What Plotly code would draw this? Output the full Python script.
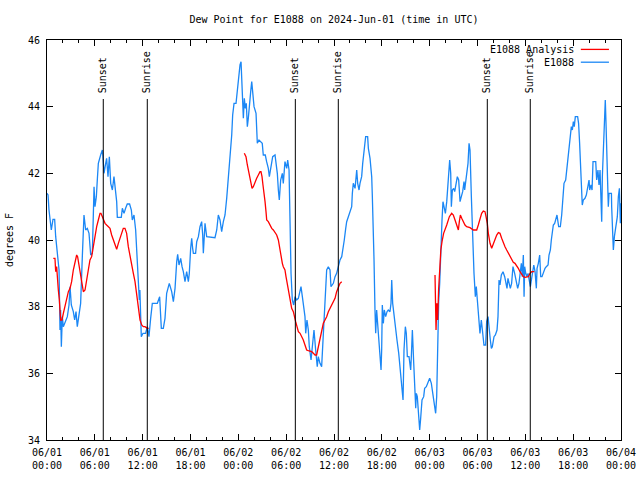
import pandas as pd
import plotly.graph_objects as go

BASE = pd.Timestamp("2024-06-01 00:00")

# E1088 observations (hours since 2024-06-01 00:00 UTC, degrees F)
obs_hours = [0.0, 0.13, 0.25, 0.54, 0.75, 0.96, 1.09, 1.21, 1.51, 1.63, 1.71, 1.8, 1.92, 2.05, 2.34, 2.55, 2.76, 2.89, 3.05, 3.3, 3.47, 3.64, 3.8, 4.01, 4.22, 4.43, 4.5, 4.64, 4.85, 5.06, 5.27, 5.48, 5.69, 5.9, 6.02, 6.19, 6.31, 6.44, 6.73, 6.94, 7.0, 7.15, 7.36, 7.48, 7.65, 7.82, 7.99, 8.2, 8.4, 8.61, 8.74, 8.82, 9.32, 9.45, 9.66, 9.86, 10.07, 10.36, 10.58, 10.7, 10.91, 11.12, 11.33, 11.45, 11.58, 11.65, 11.75, 11.83, 12.04, 12.37, 12.58, 12.79, 13.0, 13.21, 13.84, 14.05, 14.13, 14.34,
             14.59, 14.8, 15.01, 15.34, 15.64, 15.85, 16.06, 16.27, 16.39, 16.56, 16.77, 16.94, 17.1, 17.31, 17.52, 17.73, 17.85, 18.02, 18.15, 18.27, 18.36, 18.64, 18.78, 18.99, 19.19, 19.4, 19.53, 19.61, 19.82, 20.03, 21.07, 21.29, 21.49, 21.7, 21.91, 22.12, 22.33, 22.54, 22.75, 22.96, 23.17, 23.29, 23.46, 23.71, 23.87, 24.04, 24.21, 24.34, 24.42, 24.55, 24.63, 24.75, 24.88, 25.0, 25.13, 25.25, 25.38, 25.55, 25.68, 25.8, 25.97, 26.22, 26.38, 26.59, 26.8, 27.0, 27.13, 27.38, 27.55, 27.76, 27.89, 28.06, 28.31, 28.6, 28.73, 28.89, 29.02, 29.14,
             29.31, 29.52, 29.64, 29.85, 30.07, 30.19, 30.36, 30.48, 30.61, 30.77, 30.94, 31.11, 31.32, 31.53, 31.74, 31.86, 32.03, 32.15, 32.36, 32.45, 32.61, 32.78, 32.9, 33.12, 33.28, 33.49, 33.7, 33.9, 34.03, 34.24, 34.45, 34.58, 34.75, 34.87, 35.08, 35.29, 35.5, 35.62, 35.92, 36.13, 36.33, 36.54, 36.75, 36.97, 37.17, 37.29, 37.47, 37.59, 37.8, 38.0, 38.22, 38.3, 38.42, 38.64, 38.76, 38.85, 38.97, 39.14, 39.26, 39.47, 39.6, 39.76, 39.89, 39.97, 40.22, 40.31, 40.52, 40.73, 40.81, 40.93, 41.02, 41.14, 41.23, 41.35, 41.48, 41.65, 41.77, 41.9, 41.98, 42.06, 42.19, 42.31, 42.48, 42.65, 42.81, 43.02, 43.15, 43.24, 43.36, 43.57,
             43.69, 43.9, 44.12, 44.24, 44.44, 44.66, 44.78, 44.95, 45.07, 45.2, 45.41, 45.62, 45.7, 45.83, 46.0, 46.12, 46.25, 46.33, 46.45, 46.63, 46.75, 46.87, 47.04, 47.25, 47.37, 47.58, 47.79, 48.0, 48.21, 48.42, 48.63, 48.75, 48.88, 48.96, 49.05, 49.13, 49.26, 49.38, 49.55, 49.67, 49.8, 49.97, 50.14, 50.3, 50.43, 50.51, 50.64, 50.72, 50.85, 51.01, 51.14, 51.35, 51.47, 51.64, 51.81, 51.97, 52.14, 52.31, 52.39, 52.6, 52.81, 52.94, 53.06, 53.23, 53.31, 53.44, 53.56, 53.73, 53.85, 53.98, 54.06, 54.19, 54.31, 54.48, 54.69, 54.81, 55.02, 55.15, 55.32, 55.44, 55.61, 55.74, 55.86, 56.07, 56.24, 56.45, 56.57, 56.7, 56.82, 56.99, 57.2, 57.41,
             57.53, 57.7, 57.82, 57.95, 58.12, 58.28, 58.45, 58.66, 58.87, 59.04, 59.2, 59.37, 59.5, 59.62, 59.75, 59.84, 59.92, 60.05, 60.21, 60.34, 60.5, 60.63, 60.76, 60.88, 61.06, 61.22, 61.38, 61.47, 61.63, 61.8, 61.93, 62.09, 62.3, 62.47, 62.63, 62.85, 62.97, 63.14, 63.26, 63.39, 63.51, 63.68, 63.81, 63.97, 64.18, 64.39, 64.56, 64.73, 64.85, 65.06, 65.14, 65.27, 65.39, 65.52, 65.64, 65.77, 65.9, 66.02, 66.14, 66.27, 66.56, 66.68, 66.81, 66.93, 67.02, 67.14, 67.27, 67.48, 67.65, 67.82, 67.99, 68.07, 68.24, 68.37, 68.49, 68.83, 68.95, 69.11, 69.24, 69.37, 69.49, 69.58, 69.66, 69.74, 69.87, 69.96, 70.03, 70.12, 70.2, 70.28, 70.41, 70.5, 70.8, 70.83, 70.91, 71.04, 71.17, 71.29, 71.42, 71.54, 71.67, 71.8, 71.92, 72.0]
obs_values = [41.4, 41.35, 40.9, 40.3, 40.62, 40.62, 40.1, 39.75, 39.1, 37.3, 37.9, 36.8, 37.7, 37.4, 37.55, 37.7, 38.05, 38.6, 38.05, 37.85, 37.6, 37.85, 37.4, 37.7, 38.1, 39.5, 40.0, 40.75, 40.3, 40.35, 40.2, 39.55, 39.6, 41.6, 41.0, 41.3, 41.8, 42.3, 42.55, 42.7, 42.55, 42.0, 42.3, 42.45, 41.9, 42.5, 41.7, 41.5, 41.9, 41.4, 41.15, 40.68, 40.68, 40.95, 40.8, 40.95, 41.08, 41.08, 40.9, 40.6, 40.75, 40.3, 39.3, 38.5, 38.2, 38.5, 37.8, 37.1, 37.2, 37.2, 37.4, 37.1, 37.65, 38.1, 38.1, 38.25, 38.3, 37.35,
              37.35, 37.65, 38.4, 38.7, 38.45, 38.15, 38.55, 39.35, 39.57, 39.25, 39.45, 39.2, 39.05, 38.75, 39.05, 38.75, 39.0, 39.75, 40.05, 39.75, 39.6, 39.6, 39.95, 40.1, 40.4, 40.55, 40.15, 39.6, 40.5, 40.1, 40.07, 40.3, 40.75, 40.6, 40.25, 40.55, 40.75, 41.25, 41.85, 42.55, 43.15, 43.75, 44.1, 44.1, 44.55, 45.0, 45.25, 45.35, 44.95, 44.25, 43.65, 44.25, 43.95, 44.1, 43.4, 43.65, 44.1, 44.45, 44.75, 44.45, 44.0, 43.8, 42.9, 43.0, 42.95, 42.9, 42.55, 42.55, 42.35, 42.15, 41.9, 42.2, 42.5, 42.55, 42.3, 42.0, 41.5, 41.2,
              41.8, 42.0, 41.7, 42.35, 42.15, 42.4, 42.1, 40.3, 39.0, 38.2, 38.05, 38.3, 38.2, 38.25, 38.5, 38.6, 38.3, 38.0, 37.7, 37.2, 37.6, 37.3, 36.8, 36.4, 36.9, 37.3, 36.7, 36.2, 36.5, 36.3, 36.2, 36.8, 37.7, 38.3, 39.1, 39.2, 39.1, 38.6, 38.7, 38.9, 39.0, 39.2, 39.4, 39.5, 39.75, 40.0, 40.35, 40.55, 40.7, 40.85, 41.0, 41.4, 41.7, 41.55, 41.9, 42.1, 41.7, 41.5, 41.7, 41.9, 42.3, 42.6, 42.95, 43.1, 43.1, 42.75, 42.45, 41.9, 41.3, 40.5, 39.4, 37.9, 37.2, 37.9, 37.5, 37.0, 36.4, 36.1, 36.7, 38.05, 37.5, 37.9, 37.7, 37.85, 37.9, 37.85, 38.1, 38.8, 38.1, 37.6,
              37.4, 37.0, 36.6, 36.3, 35.9, 35.2, 36.7, 37.4, 37.2, 36.5, 36.5, 36.1, 36.5, 37.3, 36.3, 35.5, 34.95, 35.4, 35.3, 34.7, 34.3, 34.65, 35.2, 35.3, 35.55, 35.6, 35.7, 35.85, 35.7, 35.4, 35.0, 34.8, 35.3, 36.3, 37.3, 38.15, 38.7, 39.7, 40.6, 41.15, 41.0, 40.8, 41.15, 41.7, 42.2, 42.4, 42.0, 41.0, 41.5, 41.55, 41.45, 41.8, 41.9, 41.8, 41.15, 41.3, 41.45, 41.75, 41.5, 41.9, 42.3, 42.9, 42.7, 41.3, 40.6, 40.1, 39.0, 38.3, 38.6, 38.2, 37.9, 37.5, 37.2, 37.6, 37.1, 36.85, 36.85, 37.55, 37.7, 37.3, 37.0, 36.75, 36.8, 37.1, 37.15, 37.3, 37.7, 38.8, 38.65, 38.95, 39.05, 38.9,
              38.7, 38.55, 38.85, 38.75, 38.55, 38.7, 39.2, 39.0, 38.7, 38.55, 38.7, 39.1, 39.3, 38.9, 39.55, 38.3, 39.2, 39.0, 38.9, 39.0, 38.7, 38.6, 38.8, 39.05, 39.25, 39.05, 38.55, 39.15, 39.3, 39.55, 38.9, 38.9, 39.05, 39.15, 39.2, 39.25, 39.55, 39.7, 40.0, 40.3, 40.45, 40.5, 40.65, 40.75, 40.4, 40.4, 40.75, 41.4, 41.7, 41.8, 42.0, 42.2, 42.65, 42.9, 43.2, 43.4, 43.3, 43.55, 43.4, 43.7, 43.7, 43.5, 42.9, 42.2, 41.5, 41.05, 41.2, 41.25, 41.35, 41.6, 41.8, 41.5, 41.65, 41.5, 42.35, 42.35, 41.8, 42.1, 41.65, 42.1, 41.0, 40.55, 41.9, 42.45, 43.3, 43.75, 44.2, 43.5, 42.5, 41.8, 41.0, 41.4, 41.4, 41.0, 40.15, 39.7, 40.1, 40.35, 40.5, 40.7, 41.3, 41.55, 40.5, 41.1]

# E1088 Analysis (three separate runs)
ana1_hours = [0.79, 1.0, 1.09, 1.21, 1.42, 1.55, 1.71, 1.88, 2.05, 2.26, 2.47, 2.68, 2.89, 3.09, 3.3, 3.51, 3.72, 3.84, 4.01, 4.14, 4.35, 4.56, 4.77, 4.98, 5.19, 5.39, 5.6, 5.81, 6.02, 6.23, 6.44, 6.65, 6.77, 6.99, 7.28, 7.48, 7.69, 7.9, 8.11, 8.32, 8.53, 8.74, 8.95, 9.16, 9.37, 9.57, 9.78, 9.99, 10.2, 10.41, 10.62, 10.83, 11.04, 11.25, 11.46, 11.58, 11.67, 11.88, 12.08, 12.29, 12.58, 12.75]
ana1_values = [39.45, 39.45, 39.05, 39.2, 38.5, 38.2, 37.6, 37.6, 37.8, 38.0, 38.2, 38.45, 38.55, 38.75, 39.1, 39.35, 39.55, 39.5, 39.25, 39.0, 38.65, 38.45, 38.5, 38.8, 39.1, 39.4, 39.5, 39.8, 40.15, 40.4, 40.6, 40.8, 40.8, 40.65, 40.5, 40.45, 40.4, 40.35, 40.15, 40.0, 39.8, 39.72, 39.9, 40.05, 40.2, 40.35, 40.35, 40.2, 39.8, 39.5, 39.25, 39.0, 38.75, 38.4, 38.1, 37.8, 37.6, 37.45, 37.4, 37.4, 37.35, 37.35]
ana2_hours = [24.75, 24.96, 25.13, 25.25, 25.38, 25.55, 25.72, 25.88, 26.09, 26.3, 26.51, 26.72, 26.84, 26.97, 27.09, 27.22, 27.35, 27.47, 27.56, 27.76, 27.97, 28.19, 28.39, 28.6, 28.81, 29.02, 29.14, 29.31, 29.52, 29.64, 29.85, 29.98, 30.15, 30.27, 30.4, 30.57, 30.69, 30.9, 31.02, 31.19, 31.36, 31.53, 31.74, 31.95, 32.15, 32.36, 32.57, 32.78, 33.2, 33.41, 33.62, 33.82, 33.95, 34.12, 34.29, 34.45, 34.66, 34.87, 35.08, 35.29, 35.5, 35.71, 35.91, 36.13, 36.33, 36.54, 36.75, 36.97]
ana2_values = [42.6, 42.5, 42.25, 42.1, 41.9, 41.75, 41.55, 41.6, 41.75, 41.85, 41.95, 42.05, 42.05, 41.9, 41.65, 41.45, 41.15, 40.85, 40.6, 40.55, 40.45, 40.35, 40.3, 40.2, 40.15, 40.0, 39.8, 39.5, 39.3, 39.2, 39.1, 38.9, 38.7, 38.5, 38.3, 38.1, 37.95, 37.85, 37.7, 37.55, 37.4, 37.25, 37.2, 37.1, 37.0, 36.85, 36.7, 36.68, 36.65, 36.6, 36.55, 36.55, 36.7, 36.9, 37.05, 37.3, 37.5, 37.6, 37.7, 37.85, 37.95, 38.05, 38.1, 38.25, 38.45, 38.6, 38.7, 38.75]
ana3_hours = [48.67, 48.72, 48.8, 48.9, 49.0, 49.12, 49.2, 49.3, 49.4, 49.55, 49.75, 50.14, 50.47, 50.76, 50.97, 51.18, 51.39, 51.6, 51.72, 51.85, 52.02, 52.23, 52.43, 52.64, 53.06, 53.48, 53.9, 54.1, 54.31, 54.52, 54.73, 54.94, 55.07, 55.23, 55.36, 55.57, 55.78, 55.99, 56.2, 56.41, 56.62, 56.82, 57.03, 57.24, 57.45, 57.66, 57.87, 58.08, 58.29, 58.49, 58.7, 58.91, 59.12, 59.33, 59.54, 59.75, 59.96, 60.17, 60.38, 60.59, 60.8, 61.13]
ana3_values = [38.95, 37.5, 37.3, 38.1, 37.6, 38.5, 39.0, 39.3, 39.7, 39.95, 40.2, 40.45, 40.7, 40.8, 40.75, 40.6, 40.45, 40.3, 40.55, 40.75, 40.65, 40.55, 40.45, 40.4, 40.37, 40.3, 40.3, 40.45, 40.65, 40.8, 40.87, 40.85, 40.7, 40.5, 40.2, 39.9, 39.75, 39.9, 40.05, 40.15, 40.22, 40.2, 40.05, 39.9, 39.8, 39.7, 39.6, 39.5, 39.4, 39.33, 39.3, 39.23, 39.15, 39.05, 38.95, 38.9, 38.88, 38.9, 38.9, 39.0, 39.05, 39.05]

sunset_hours = [7.06, 31.15, 55.23]
sunrise_hours = [12.58, 36.54, 60.62]

y_ticks = [34, 36, 38, 40, 42, 44, 46]


def to_time(hours):
    return [BASE + pd.Timedelta(hours=h) for h in hours]


ana_x, ana_y = [], []
for hs, vs in [(ana1_hours, ana1_values), (ana2_hours, ana2_values), (ana3_hours, ana3_values)]:
    if ana_x:
        ana_x.append(None)
        ana_y.append(None)
    ana_x += to_time(hs)
    ana_y += vs

RED = "#ff0000"
BLUE = "#1b87f5"
FONT = "DejaVu Sans Mono"

fig = go.Figure()
fig.add_trace(go.Scatter(x=to_time(obs_hours), y=obs_values, mode="lines", name="E1088",
                         line=dict(color=BLUE, width=1.3), showlegend=False))
fig.add_trace(go.Scatter(x=ana_x, y=ana_y, mode="lines", name="E1088 Analysis",
                         line=dict(color=RED, width=1.3), connectgaps=False, showlegend=False))

shapes = []
annotations = []
for label, hours in [("Sunset", sunset_hours), ("Sunrise", sunrise_hours)]:
    for t in to_time(hours):
        shapes.append(dict(type="line", xref="x", yref="paper", x0=t, x1=t, y0=0, y1=0.8525,
                           line=dict(color="black", width=1)))
        annotations.append(dict(text=label, x=t, xref="x", y=0.8625, yref="paper", textangle=-90,
                                xanchor="center", yanchor="bottom", showarrow=False, xshift=0,
                                font=dict(family=FONT, size=10, color="black")))

# legend (gnuplot style: right-justified text, sample to the right)
for name, color, yp in [("E1088 Analysis", RED, 0.9765), ("E1088", BLUE, 0.9445)]:
    annotations.append(dict(text=name, x=0.921, xref="paper", y=yp, yref="paper", xanchor="right",
                            yanchor="middle", showarrow=False, font=dict(family=FONT, size=10, color="black")))
    shapes.append(dict(type="line", xref="paper", yref="paper", x0=0.930, x1=0.979, y0=yp, y1=yp,
                       line=dict(color=color, width=1.3)))

fig.update_layout(
    width=640, height=480, autosize=False,
    margin=dict(l=47, r=19, t=40, b=40, pad=0, autoexpand=False),
    paper_bgcolor="white", plot_bgcolor="white",
    font=dict(family=FONT, size=10, color="black"),
    title=dict(text="Dew Point for E1088 on 2024-Jun-01 (time in UTC)", x=0.5, xref="paper",
               y=1 - 19 / 480, yref="container", yanchor="middle",
               font=dict(family=FONT, size=10, color="black")),
    shapes=shapes, annotations=annotations, showlegend=False,
)
fig.update_xaxes(
    type="date", range=[BASE, BASE + pd.Timedelta(hours=72)], automargin=False,
    dtick=6 * 3600 * 1000, tick0=BASE, tickformat="%m/%d<br>%H:%M",
    ticks="inside", ticklen=6, tickcolor="black", tickwidth=1, ticklabelstandoff=3,
    minor=dict(dtick=2 * 3600 * 1000, tick0=BASE, ticks="inside", ticklen=3, tickcolor="black", showgrid=False),
    showline=True, linecolor="black", linewidth=1, mirror="allticks",
    showgrid=False, zeroline=False, tickfont=dict(family=FONT, size=10, color="black"),
)
fig.update_yaxes(
    range=[34, 46], tickvals=y_ticks, ticktext=[str(v) for v in y_ticks], automargin=False,
    ticks="inside", ticklen=6, tickcolor="black", tickwidth=1, ticklabelstandoff=4,
    showline=True, linecolor="black", linewidth=1, mirror="allticks",
    showgrid=False, zeroline=False, tickfont=dict(family=FONT, size=10, color="black"),
    title=dict(text="degrees F", font=dict(family=FONT, size=10, color="black"), standoff=12),
)

fig.write_html("out.html", config={"displayModeBar": False},
               post_script="document.body.style.margin='0';document.documentElement.style.overflow='hidden';")
